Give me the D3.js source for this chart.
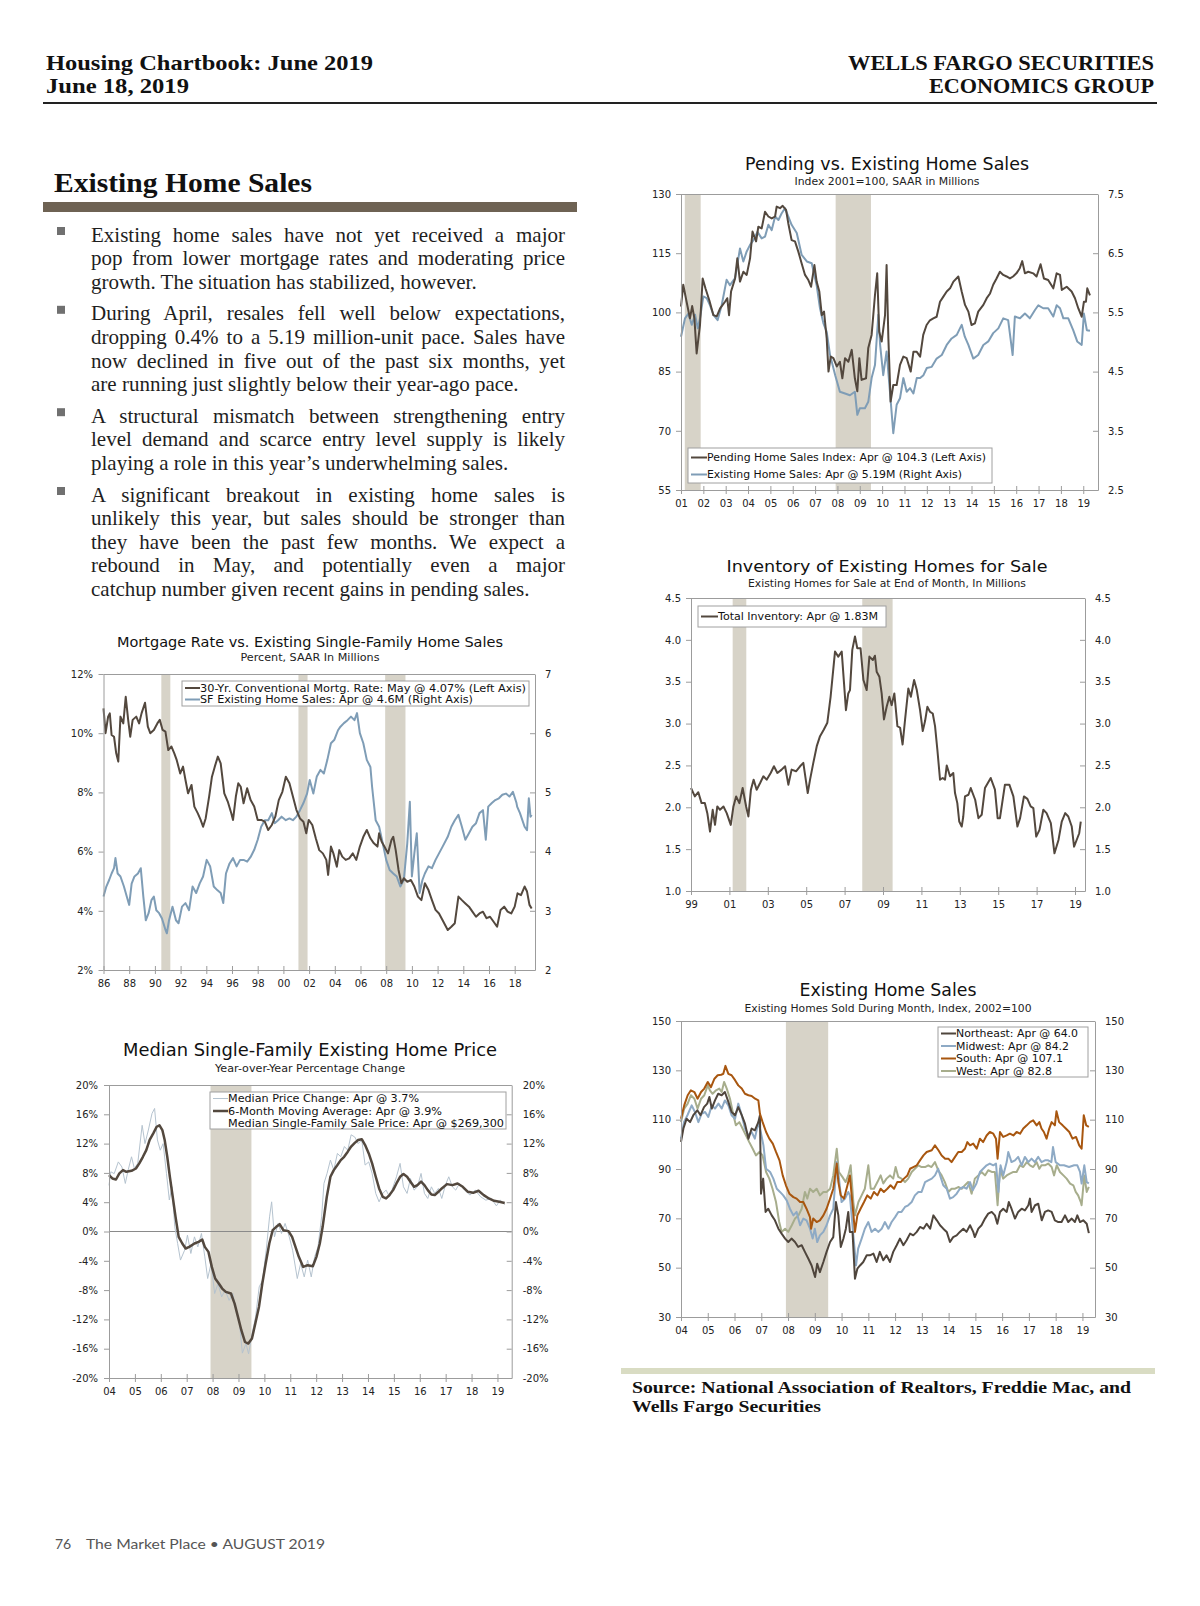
<!DOCTYPE html>
<html><head><meta charset="utf-8">
<script src="https://cdn.jsdelivr.net/npm/d3@7"></script>
<style>
body{margin:0;background:#fff;}
#page{position:relative;width:1200px;height:1606px;overflow:hidden;background:#fff;}
#svg{position:absolute;left:0;top:0;}
.ln{position:absolute;left:91px;width:474px;font-family:"Liberation Serif","Times New Roman",serif;font-size:21px;line-height:24px;color:#1e1e1e;text-align:justify;text-align-last:justify;white-space:normal;}
.ln.last{text-align-last:left;}
</style></head>
<body><div id="page"><svg id="svg" width="1200" height="1606"></svg></div>
<script>
// ---------------- DATA ----------------
const recessions = [[1990.5,1991.2],[2001.17,2001.88],[2007.92,2009.5]];

const pendingIndex = [[2001.0,101.5],[2001.1,107],[2001.25,102.7],[2001.4,98.5],[2001.5,101.6],[2001.6,98.5],[2001.7,89.6],[2001.85,96.8],[2001.97,108.6],[2002.1,106],[2002.27,103],[2002.45,99.3],[2002.6,99],[2002.75,101],[2002.97,102.7],[2003.07,103.6],[2003.15,99.3],[2003.24,105.3],[2003.42,108.6],[2003.52,113.7],[2003.64,107.8],[2003.79,110.3],[2003.94,109.5],[2004.09,113.7],[2004.2,120.5],[2004.36,118],[2004.46,121.7],[2004.61,121.3],[2004.76,125.5],[2004.91,124.3],[2005.06,123.8],[2005.21,124.3],[2005.28,126.8],[2005.43,126.4],[2005.55,127],[2005.7,126],[2005.8,122.6],[2005.95,118.3],[2006.1,118],[2006.25,115.4],[2006.4,112.4],[2006.55,109.5],[2006.7,108.2],[2006.82,106.5],[2006.97,112],[2007.07,107.8],[2007.19,105.3],[2007.3,99.3],[2007.4,100.2],[2007.52,93.4],[2007.6,85],[2007.7,88.8],[2007.82,88.4],[2007.97,86.3],[2008.11,87.5],[2008.22,83.3],[2008.34,88.4],[2008.49,87.5],[2008.64,90.5],[2008.78,83.3],[2008.89,80],[2008.98,88.4],[2009.08,82.9],[2009.28,83.3],[2009.38,91],[2009.53,94.3],[2009.68,104.4],[2009.78,109.9],[2009.87,95.1],[2009.98,92.6],[2010.13,99.3],[2010.2,112],[2010.28,93.4],[2010.38,77.4],[2010.5,81.6],[2010.65,81.6],[2010.8,86.7],[2010.95,88.8],[2011.1,88.4],[2011.28,85],[2011.4,90],[2011.55,90],[2011.7,88.8],[2011.84,94.3],[2011.99,96.8],[2012.14,98],[2012.29,98.5],[2012.44,98.9],[2012.59,102.7],[2012.74,104],[2012.89,105.3],[2013.04,106.1],[2013.19,107.8],[2013.41,109.1],[2013.56,105.3],[2013.71,101.9],[2013.86,100.2],[2014.0,96.8],[2014.15,97.2],[2014.3,100.2],[2014.53,101.9],[2014.68,103.6],[2014.83,104.8],[2014.97,107],[2015.12,108.6],[2015.27,110.3],[2015.42,109.5],[2015.57,109.1],[2015.72,108.6],[2015.86,109.1],[2016.01,109.9],[2016.16,111.2],[2016.27,113],[2016.39,109.9],[2016.54,110.3],[2016.76,109.9],[2016.91,109.1],[2017.09,112.2],[2017.24,108.6],[2017.43,108.2],[2017.66,106.1],[2017.81,109.9],[2017.96,109.5],[2018.04,105.7],[2018.26,106.5],[2018.48,105.3],[2018.63,103.6],[2018.78,101],[2018.93,98.9],[2019.03,102.7],[2019.12,102.7],[2019.18,106.1],[2019.3,104.3]];

const existingSales = [[2001.0,5.09],[2001.18,5.4],[2001.33,5.48],[2001.48,5.29],[2001.63,5.46],[2001.75,5.23],[2001.85,5.4],[2002.0,5.77],[2002.15,5.74],[2002.3,5.62],[2002.45,5.46],[2002.64,5.37],[2002.82,5.62],[2003.04,6.05],[2003.19,5.96],[2003.42,6.08],[2003.64,6.58],[2003.79,6.36],[2003.94,6.53],[2004.09,6.64],[2004.24,6.72],[2004.42,6.86],[2004.61,6.75],[2004.76,6.78],[2004.91,6.98],[2005.06,6.89],[2005.21,7.12],[2005.36,7.06],[2005.5,7.17],[2005.65,7.26],[2005.8,7.12],[2005.95,6.98],[2006.18,6.84],[2006.4,6.47],[2006.63,6.36],[2006.85,6.33],[2007.07,5.96],[2007.22,5.57],[2007.37,5.32],[2007.52,5.17],[2007.67,4.78],[2007.9,4.44],[2008.11,4.16],[2008.34,4.13],[2008.56,4.1],[2008.78,4.16],[2008.89,3.77],[2009.0,3.88],[2009.23,3.88],[2009.38,3.99],[2009.53,4.39],[2009.68,4.61],[2009.83,5.46],[2009.91,4.95],[2010.05,4.44],[2010.2,4.84],[2010.35,4.16],[2010.5,3.46],[2010.65,3.94],[2010.8,4.05],[2010.95,4.39],[2011.1,4.16],[2011.25,4.22],[2011.4,4.13],[2011.55,4.39],[2011.7,4.39],[2011.85,4.44],[2012.0,4.56],[2012.22,4.58],[2012.44,4.72],[2012.67,4.78],[2012.89,4.95],[2013.11,5.06],[2013.34,5.12],[2013.56,5.29],[2013.7,5.09],[2013.86,4.95],[2014.08,4.72],[2014.3,4.78],[2014.53,4.95],[2014.75,5.01],[2014.97,5.15],[2015.2,5.23],[2015.42,5.4],[2015.64,5.37],[2015.84,4.78],[2015.94,5.43],[2016.17,5.4],[2016.39,5.48],[2016.61,5.4],[2016.84,5.54],[2016.99,5.62],[2017.21,5.57],[2017.43,5.57],[2017.66,5.43],[2017.81,5.62],[2017.96,5.57],[2018.11,5.4],[2018.33,5.4],[2018.55,5.2],[2018.73,5.01],[2018.93,4.95],[2019.03,5.48],[2019.16,5.2],[2019.3,5.19]];

const totalInventory = [[1999.0,2.23],[1999.2,2.13],[1999.38,2.18],[1999.55,2.05],[1999.72,2.05],[1999.85,1.93],[1999.99,1.71],[2000.13,1.97],[2000.25,1.79],[2000.37,2.01],[2000.51,1.97],[2000.69,2.01],[2000.86,1.93],[2001.07,1.79],[2001.21,2.01],[2001.35,2.13],[2001.52,2.05],[2001.69,2.23],[2001.87,2.01],[2001.99,1.89],[2002.12,2.21],[2002.26,2.33],[2002.42,2.21],[2002.6,2.29],[2002.77,2.37],[2002.94,2.33],[2003.15,2.41],[2003.32,2.49],[2003.5,2.41],[2003.72,2.45],[2003.9,2.49],[2004.07,2.27],[2004.24,2.45],[2004.47,2.43],[2004.68,2.49],[2004.85,2.53],[2005.08,2.17],[2005.2,2.33],[2005.37,2.53],[2005.55,2.73],[2005.72,2.85],[2005.92,2.93],[2006.1,3.01],[2006.27,3.32],[2006.5,3.86],[2006.67,3.8],[2006.85,3.86],[2006.97,3.48],[2007.07,3.16],[2007.19,3.36],[2007.28,3.4],[2007.4,3.88],[2007.54,4.04],[2007.66,3.9],[2007.83,3.9],[2007.98,3.52],[2008.15,3.4],[2008.29,3.8],[2008.47,3.76],[2008.58,3.81],[2008.67,3.62],[2008.81,3.56],[2008.93,3.36],[2009.05,3.05],[2009.19,3.2],[2009.33,3.32],[2009.45,3.22],[2009.59,3.36],[2009.75,2.97],[2009.89,2.95],[2010.02,2.75],[2010.15,3.05],[2010.32,3.42],[2010.45,3.32],[2010.62,3.52],[2010.76,3.4],[2010.93,3.16],[2011.07,2.91],[2011.19,3.03],[2011.31,3.2],[2011.45,3.14],[2011.59,3.12],[2011.71,2.97],[2011.83,2.69],[2011.97,2.33],[2012.11,2.35],[2012.23,2.33],[2012.32,2.5],[2012.49,2.37],[2012.66,2.41],[2012.75,2.17],[2012.87,2.05],[2012.97,1.83],[2013.1,1.77],[2013.18,1.89],[2013.27,2.13],[2013.45,2.15],[2013.57,2.23],[2013.8,2.09],[2013.97,1.87],[2014.14,1.91],[2014.31,2.23],[2014.61,2.35],[2014.83,2.21],[2014.97,1.87],[2015.09,1.87],[2015.35,2.27],[2015.58,2.27],[2015.79,2.13],[2016.0,1.77],[2016.14,1.87],[2016.34,2.13],[2016.52,2.1],[2016.69,2.01],[2016.83,1.99],[2016.98,1.65],[2017.15,1.73],[2017.35,1.97],[2017.52,1.93],[2017.74,1.81],[2017.93,1.45],[2018.14,1.61],[2018.31,1.83],[2018.49,1.93],[2018.65,1.89],[2018.83,1.77],[2018.95,1.53],[2019.12,1.63],[2019.22,1.69],[2019.3,1.83]];

const mortgageRate = [[1986.0,10.84],[1986.16,10.0],[1986.36,10.56],[1986.49,10.67],[1986.63,9.94],[1986.82,9.88],[1986.99,9.32],[1987.15,9.04],[1987.32,10.56],[1987.54,10.33],[1987.73,11.23],[1987.92,10.45],[1988.08,9.88],[1988.27,10.45],[1988.55,10.56],[1988.77,10.33],[1988.96,10.67],[1989.23,11.03],[1989.45,10.22],[1989.64,10.0],[1989.92,10.11],[1990.19,10.33],[1990.38,10.45],[1990.6,10.11],[1990.82,10.05],[1991.04,9.43],[1991.29,9.55],[1991.51,9.32],[1991.7,9.09],[1991.97,8.64],[1992.19,8.87],[1992.38,8.42],[1992.58,7.97],[1992.85,8.25],[1993.07,7.52],[1993.34,7.29],[1993.56,7.07],[1993.75,6.84],[1993.95,7.12],[1994.22,7.86],[1994.44,8.53],[1994.66,8.87],[1994.9,9.21],[1995.12,8.98],[1995.4,7.97],[1995.67,7.69],[1995.95,7.29],[1996.08,7.07],[1996.3,7.86],[1996.49,8.31],[1996.68,8.19],[1996.9,7.63],[1997.18,8.14],[1997.45,7.74],[1997.73,7.52],[1998.0,7.07],[1998.27,7.07],[1998.55,7.01],[1998.82,6.73],[1999.1,6.9],[1999.37,7.18],[1999.64,7.74],[1999.92,8.02],[2000.19,8.53],[2000.47,8.31],[2000.74,7.86],[2001.01,7.41],[2001.29,7.12],[2001.56,7.01],[2001.78,6.62],[2001.97,7.07],[2002.25,6.9],[2002.52,6.45],[2002.79,6.05],[2003.07,5.94],[2003.34,5.72],[2003.48,5.21],[2003.7,6.17],[2003.89,5.94],[2004.16,5.49],[2004.35,6.05],[2004.58,5.83],[2004.85,5.72],[2005.12,5.77],[2005.4,5.94],[2005.67,5.72],[2005.95,6.17],[2006.22,6.5],[2006.49,6.73],[2006.77,6.45],[2007.04,6.28],[2007.32,6.17],[2007.45,6.62],[2007.64,6.34],[2007.86,6.17],[2008.14,5.94],[2008.41,6.39],[2008.55,6.5],[2008.74,6.05],[2008.96,5.38],[2009.18,4.93],[2009.37,5.1],[2009.64,4.98],[2009.92,5.04],[2010.19,4.82],[2010.47,4.48],[2010.74,4.36],[2011.01,4.93],[2011.29,4.7],[2011.56,4.36],[2011.84,4.03],[2012.11,3.91],[2012.38,3.69],[2012.79,3.35],[2013.07,3.46],[2013.34,3.58],[2013.62,4.48],[2013.89,4.36],[2014.16,4.25],[2014.44,4.14],[2014.71,3.97],[2014.99,3.8],[2015.26,3.91],[2015.53,3.97],[2015.81,3.75],[2016.08,3.8],[2016.36,3.63],[2016.63,3.46],[2016.9,4.03],[2017.18,4.14],[2017.45,3.97],[2017.73,3.91],[2018.0,4.14],[2018.22,4.59],[2018.49,4.53],[2018.77,4.82],[2018.96,4.65],[2019.15,4.2],[2019.32,4.08]];

const sfExistingSales = [[1986.0,3.24],[1986.22,3.41],[1986.44,3.52],[1986.63,3.63],[1986.82,3.72],[1986.93,3.89],[1987.1,3.63],[1987.32,3.58],[1987.59,3.41],[1987.81,3.24],[1988.0,3.1],[1988.19,3.46],[1988.41,3.58],[1988.68,3.63],[1988.9,3.72],[1989.1,3.24],[1989.29,2.84],[1989.51,2.96],[1989.73,3.18],[1989.92,3.24],[1990.11,3.01],[1990.33,2.96],[1990.55,2.87],[1990.82,2.68],[1990.93,2.62],[1991.1,2.84],[1991.37,3.07],[1991.64,2.84],[1991.84,2.79],[1992.11,3.07],[1992.38,3.13],[1992.66,3.01],[1992.93,3.41],[1993.21,3.3],[1993.48,3.46],[1993.75,3.58],[1994.03,3.86],[1994.3,3.75],[1994.58,3.41],[1994.85,3.35],[1995.12,3.3],[1995.32,3.13],[1995.53,3.63],[1995.81,3.8],[1996.08,3.89],[1996.36,3.75],[1996.63,3.86],[1996.9,3.86],[1997.18,3.83],[1997.45,3.91],[1997.73,4.03],[1998.0,4.2],[1998.27,4.42],[1998.55,4.53],[1998.82,4.53],[1999.1,4.65],[1999.32,4.48],[1999.59,4.53],[1999.86,4.59],[2000.19,4.53],[2000.47,4.56],[2000.74,4.53],[2001.01,4.59],[2001.29,4.7],[2001.56,4.82],[2001.84,4.98],[2002.05,5.21],[2002.33,4.98],[2002.6,5.27],[2002.88,5.38],[2003.15,5.32],[2003.42,5.55],[2003.7,5.83],[2003.97,5.89],[2004.25,6.05],[2004.44,6.11],[2004.71,6.17],[2004.99,6.22],[2005.26,6.28],[2005.53,6.22],[2005.73,6.34],[2005.95,6.0],[2006.22,5.83],[2006.49,5.55],[2006.77,5.43],[2006.9,5.1],[2007.18,4.53],[2007.45,4.42],[2007.73,4.14],[2008.0,3.86],[2008.27,3.69],[2008.55,3.63],[2008.82,3.58],[2009.1,3.41],[2009.37,3.52],[2009.64,4.14],[2009.84,4.84],[2010.0,3.58],[2010.19,3.97],[2010.38,4.31],[2010.6,3.3],[2010.82,3.52],[2011.01,3.63],[2011.29,3.75],[2011.56,3.72],[2011.84,3.86],[2012.11,3.97],[2012.38,4.08],[2012.79,4.25],[2013.07,4.42],[2013.34,4.53],[2013.62,4.62],[2013.89,4.42],[2014.16,4.2],[2014.44,4.31],[2014.71,4.42],[2014.99,4.48],[2015.26,4.65],[2015.53,4.7],[2015.75,4.2],[2015.94,4.76],[2016.22,4.82],[2016.49,4.87],[2016.77,4.9],[2017.04,4.96],[2017.32,4.98],[2017.59,4.93],[2017.86,5.01],[2018.14,4.82],[2018.19,4.76],[2018.41,4.65],[2018.77,4.42],[2018.96,4.36],[2019.1,4.9],[2019.23,4.59],[2019.32,4.62]];

const medianPriceChange = [[2004.0,6.3],[2004.07,8.15],[2004.2,7.9],[2004.36,9.5],[2004.5,8.8],[2004.63,6.56],[2004.74,8.4],[2004.87,10.2],[2004.98,8.6],[2005.11,9.3],[2005.28,14.5],[2005.39,12.0],[2005.52,13.85],[2005.66,16.1],[2005.76,16.8],[2005.87,12.5],[2005.98,11.1],[2006.09,12.0],[2006.22,7.9],[2006.33,4.3],[2006.43,6.1],[2006.54,0.64],[2006.65,-1.64],[2006.76,-3.9],[2006.92,-2.55],[2007.03,-0.5],[2007.16,-3.0],[2007.3,-0.73],[2007.43,-2.1],[2007.57,-0.27],[2007.7,-3.46],[2007.81,-6.42],[2007.94,-4.37],[2008.08,-8.47],[2008.21,-7.1],[2008.35,-8.93],[2008.48,-8.0],[2008.64,-9.4],[2008.78,-8.47],[2008.91,-10.75],[2009.04,-12.57],[2009.15,-16.6],[2009.29,-15.3],[2009.39,-16.7],[2009.53,-13.9],[2009.66,-11.66],[2009.8,-7.56],[2009.93,-6.65],[2010.07,-2.55],[2010.2,2.0],[2010.28,4.05],[2010.39,-0.73],[2010.53,1.1],[2010.66,-0.27],[2010.8,1.1],[2010.96,-0.73],[2011.09,-2.55],[2011.27,-6.42],[2011.4,-4.37],[2011.54,-6.2],[2011.67,-3.9],[2011.81,-6.2],[2011.94,-3.46],[2012.07,-2.1],[2012.21,2.0],[2012.3,6.56],[2012.42,7.93],[2012.55,9.75],[2012.68,8.38],[2012.82,10.66],[2012.95,10.2],[2013.09,11.6],[2013.22,11.1],[2013.35,13.2],[2013.49,12.9],[2013.62,12.0],[2013.76,12.5],[2013.89,9.07],[2014.03,9.5],[2014.16,7.93],[2014.3,5.2],[2014.43,4.05],[2014.57,5.2],[2014.7,5.65],[2014.83,4.74],[2014.97,6.1],[2015.1,7.47],[2015.24,9.3],[2015.37,6.1],[2015.51,5.2],[2015.64,7.24],[2015.78,5.65],[2015.91,6.1],[2016.05,7.93],[2016.18,5.2],[2016.31,4.51],[2016.45,6.1],[2016.58,5.2],[2016.72,5.88],[2016.85,4.51],[2016.99,6.33],[2017.12,7.47],[2017.26,6.1],[2017.39,5.65],[2017.53,6.56],[2017.73,5.65],[2017.94,4.97],[2018.14,5.65],[2018.35,4.74],[2018.55,4.28],[2018.76,4.51],[2018.96,3.5],[2019.11,4.28],[2019.28,3.7]];

const medianMovingAvg = [[2004.0,7.7],[2004.13,7.24],[2004.27,7.1],[2004.4,7.93],[2004.54,8.38],[2004.67,8.15],[2004.87,8.29],[2005.04,8.6],[2005.17,9.3],[2005.31,10.2],[2005.44,11.1],[2005.57,12.5],[2005.71,13.4],[2005.84,14.3],[2005.95,14.5],[2006.06,13.85],[2006.15,12.5],[2006.25,10.2],[2006.35,7.47],[2006.46,4.74],[2006.57,2.0],[2006.69,-0.73],[2006.83,-1.64],[2006.96,-2.32],[2007.1,-2.1],[2007.3,-1.64],[2007.46,-1.41],[2007.6,-1.09],[2007.7,-2.1],[2007.84,-2.78],[2007.97,-4.83],[2008.1,-6.42],[2008.24,-7.1],[2008.37,-7.79],[2008.51,-8.25],[2008.71,-8.47],[2008.85,-9.84],[2008.98,-11.66],[2009.11,-13.48],[2009.25,-15.08],[2009.38,-15.3],[2009.52,-14.6],[2009.65,-12.57],[2009.79,-10.3],[2009.92,-7.1],[2010.05,-4.37],[2010.19,-1.64],[2010.32,0.18],[2010.46,0.64],[2010.59,1.0],[2010.73,0.18],[2010.93,0.05],[2011.07,-0.73],[2011.2,-2.1],[2011.33,-3.46],[2011.5,-4.83],[2011.67,-4.6],[2011.87,-4.74],[2012.01,-3.46],[2012.14,-1.64],[2012.25,0.64],[2012.41,4.74],[2012.55,7.47],[2012.68,8.38],[2012.82,9.07],[2012.95,9.75],[2013.08,10.2],[2013.22,10.9],[2013.35,11.6],[2013.49,12.1],[2013.62,12.5],[2013.76,12.6],[2013.89,11.8],[2014.03,10.66],[2014.16,9.3],[2014.3,7.47],[2014.43,5.88],[2014.57,4.74],[2014.7,4.51],[2014.83,4.97],[2014.97,5.65],[2015.1,6.56],[2015.24,7.47],[2015.37,7.84],[2015.51,7.47],[2015.64,6.8],[2015.78,6.1],[2015.91,6.33],[2016.05,6.8],[2016.18,6.33],[2016.31,5.65],[2016.45,5.06],[2016.58,4.97],[2016.72,5.42],[2016.85,5.88],[2017.05,6.47],[2017.26,6.33],[2017.46,6.56],[2017.66,6.1],[2017.86,5.42],[2018.06,5.28],[2018.27,5.56],[2018.47,4.97],[2018.67,4.51],[2018.87,4.19],[2019.07,4.05],[2019.28,3.9]];

const northeast = [[2004.0,101],[2004.09,106.4],[2004.21,110.4],[2004.34,109],[2004.46,111.8],[2004.61,113.8],[2004.73,111.8],[2004.86,115.1],[2004.98,116.5],[2005.06,119.2],[2005.15,114.5],[2005.27,117.8],[2005.39,120.5],[2005.52,119.9],[2005.64,121.2],[2005.77,117.2],[2005.89,113.1],[2006.02,111.8],[2006.14,115.1],[2006.27,111.8],[2006.39,108.4],[2006.52,102.3],[2006.64,106.4],[2006.76,105.7],[2006.89,109],[2006.95,111.8],[2006.99,80],[2007.07,86.1],[2007.16,72.6],[2007.26,73.9],[2007.39,71.2],[2007.51,69.2],[2007.64,65.8],[2007.76,63.8],[2007.89,61.8],[2008.01,60.4],[2008.13,61.8],[2008.26,60.4],[2008.38,58.4],[2008.51,59.1],[2008.63,56.4],[2008.76,53.6],[2008.88,50.9],[2009.01,46.2],[2009.09,51.6],[2009.19,48.2],[2009.32,52.3],[2009.44,56.4],[2009.57,60.4],[2009.69,62.4],[2009.79,76.6],[2009.88,71.2],[2009.97,58.4],[2010.07,61.8],[2010.16,65.8],[2010.25,72.6],[2010.31,64.5],[2010.41,64.5],[2010.5,45.5],[2010.59,49.6],[2010.69,50.9],[2010.81,52.3],[2010.94,55],[2011.06,55],[2011.19,55.7],[2011.31,52.3],[2011.43,56.4],[2011.56,53],[2011.68,55],[2011.81,52.3],[2011.93,56.4],[2012.06,59.1],[2012.18,61.8],[2012.31,59.1],[2012.43,61.1],[2012.56,63.8],[2012.68,63.1],[2012.81,64.5],[2012.93,66.5],[2013.06,65.8],[2013.18,67.8],[2013.31,65.8],[2013.43,71.2],[2013.56,69.2],[2013.68,67.2],[2013.8,65.8],[2013.93,64.5],[2014.05,60.4],[2014.17,62.4],[2014.3,63.1],[2014.42,64.5],[2014.55,65.8],[2014.67,64.5],[2014.8,67.2],[2014.92,64.5],[2014.98,62.4],[2015.11,65.8],[2015.23,67.2],[2015.36,69.9],[2015.48,71.9],[2015.61,72.6],[2015.73,71.2],[2015.82,67.8],[2015.92,72.6],[2016.04,73.9],[2016.17,72.6],[2016.25,76.6],[2016.35,73.9],[2016.48,69.9],[2016.6,72.6],[2016.73,73.9],[2016.85,73.2],[2016.98,75.3],[2017.04,78],[2017.1,72.6],[2017.23,75.3],[2017.35,75.9],[2017.48,69.2],[2017.6,72.6],[2017.72,73.2],[2017.85,72.6],[2017.97,69.2],[2018.1,68.5],[2018.22,68.5],[2018.35,71.2],[2018.47,68.5],[2018.6,69.9],[2018.72,68.5],[2018.81,71.2],[2018.91,68.5],[2019.03,69.2],[2019.16,67.8],[2019.24,64.0]];

const midwest = [[2004.0,102.3],[2004.11,109],[2004.24,111.8],[2004.4,115.8],[2004.52,113.1],[2004.65,109],[2004.77,112.4],[2004.9,113.1],[2005.02,111.1],[2005.15,115.8],[2005.27,114.5],[2005.4,116.5],[2005.52,114.5],[2005.64,117.8],[2005.77,115.8],[2005.89,111.8],[2006.02,110.4],[2006.14,116.5],[2006.27,111.8],[2006.39,106.4],[2006.52,103.6],[2006.64,105],[2006.76,102.3],[2006.89,109],[2006.98,105],[2007.08,99.6],[2007.18,90.1],[2007.33,88.8],[2007.45,86.1],[2007.58,82],[2007.7,80.7],[2007.82,79.3],[2007.95,77.3],[2008.07,73.9],[2008.2,71.2],[2008.32,72.6],[2008.45,67.2],[2008.57,69.9],[2008.69,69.2],[2008.82,65.8],[2008.92,61.8],[2009.0,65.8],[2009.09,60.4],[2009.19,63.1],[2009.32,64.5],[2009.44,67.2],[2009.57,71.2],[2009.69,73.9],[2009.82,92.8],[2009.89,87.4],[2010.0,76.6],[2010.13,78],[2010.25,80.7],[2010.31,79.3],[2010.44,63.1],[2010.54,50.9],[2010.62,57.7],[2010.75,61.8],[2010.87,65.8],[2011.0,68.5],[2011.12,64.5],[2011.25,65.8],[2011.37,64.5],[2011.5,65.8],[2011.62,68.5],[2011.75,65.8],[2011.87,68.5],[2012.0,70.5],[2012.12,72.6],[2012.24,72.6],[2012.37,74.6],[2012.49,75.3],[2012.62,76.6],[2012.74,79.3],[2012.87,80.7],[2012.99,80.7],[2013.12,84.7],[2013.24,85.4],[2013.37,86.1],[2013.49,87.4],[2013.61,90.1],[2013.7,86.8],[2013.8,83.4],[2013.93,82],[2014.05,78],[2014.17,78.6],[2014.3,80],[2014.42,82],[2014.55,82.7],[2014.67,82],[2014.8,84.7],[2014.9,81.4],[2015.04,84.1],[2015.17,88.8],[2015.29,90.1],[2015.42,91.5],[2015.54,92.2],[2015.67,91.5],[2015.77,92.2],[2015.86,80.7],[2015.94,91.5],[2016.04,87.4],[2016.17,92.8],[2016.23,96.9],[2016.35,92.8],[2016.48,93.5],[2016.6,94.9],[2016.73,91.5],[2016.85,94.9],[2016.98,92.8],[2017.1,94.2],[2017.22,92.8],[2017.35,94.9],[2017.47,92.8],[2017.6,93.5],[2017.72,93.5],[2017.84,92.8],[2017.9,98.9],[2018.0,92.8],[2018.16,91.5],[2018.31,91.5],[2018.5,90.8],[2018.69,91.5],[2018.81,91.5],[2018.91,88.8],[2018.97,84.1],[2019.07,91.5],[2019.16,84.7],[2019.24,84.2]];

const south = [[2004.0,110.4],[2004.12,115.8],[2004.25,119.9],[2004.37,121.9],[2004.5,121.2],[2004.62,118.5],[2004.75,121.2],[2004.87,122.6],[2005.0,125.3],[2005.12,123.2],[2005.25,126.6],[2005.37,128],[2005.5,128.2],[2005.58,128.6],[2005.66,131.8],[2005.77,128.6],[2005.89,128],[2006.02,126],[2006.14,123.9],[2006.27,122.6],[2006.39,120.5],[2006.52,119.9],[2006.64,119.6],[2006.77,118.5],[2006.89,117.8],[2006.95,112.4],[2007.05,109],[2007.18,105],[2007.3,102.3],[2007.43,100.3],[2007.55,96.9],[2007.68,93.5],[2007.8,87.4],[2007.92,83.4],[2008.05,80],[2008.2,78.6],[2008.32,78],[2008.45,76.6],[2008.57,76.6],[2008.69,73.9],[2008.82,70.5],[2008.86,65.8],[2008.94,69.9],[2009.07,68.5],[2009.19,69.2],[2009.32,71.2],[2009.44,73.9],[2009.57,78],[2009.69,82],[2009.82,92.2],[2009.88,84.7],[2009.97,79.3],[2010.09,78],[2010.22,83.4],[2010.31,87.4],[2010.4,76.6],[2010.5,64.5],[2010.59,71.2],[2010.71,73.9],[2010.84,76.6],[2010.96,79.3],[2011.09,78],[2011.21,80.7],[2011.34,79.3],[2011.46,82],[2011.58,80.7],[2011.71,82],[2011.83,83.4],[2011.96,82],[2012.08,84.7],[2012.21,84.7],[2012.33,86.1],[2012.46,87.4],[2012.56,90.1],[2012.68,90.8],[2012.81,91.5],[2012.93,93.5],[2013.06,95.5],[2013.18,96.9],[2013.37,97.6],[2013.49,99.6],[2013.62,97.6],[2013.74,95.5],[2013.87,94.2],[2013.99,94.2],[2014.11,92.8],[2014.24,94.9],[2014.36,96.9],[2014.49,96.9],[2014.61,98.2],[2014.7,100.9],[2014.8,99.6],[2014.92,100.3],[2015.05,98.2],[2015.17,102.3],[2015.29,100.9],[2015.42,103.6],[2015.54,105],[2015.67,104.3],[2015.77,102.3],[2015.83,94.2],[2015.92,105],[2016.04,103],[2016.17,103.6],[2016.29,104.3],[2016.42,103.6],[2016.54,105],[2016.67,104.3],[2016.79,106.4],[2016.92,107.7],[2017.04,109],[2017.16,109.7],[2017.29,107.7],[2017.39,109],[2017.47,106.4],[2017.56,105],[2017.66,102.3],[2017.76,106.4],[2017.85,109],[2017.97,107.7],[2018.03,113.4],[2018.13,109],[2018.26,107.7],[2018.38,106.4],[2018.51,105],[2018.63,102.3],[2018.76,103],[2018.88,99.6],[2018.97,98.2],[2019.05,111.8],[2019.14,107.7],[2019.24,107.1]];

const west = [[2004.0,109],[2004.12,114.5],[2004.25,116.5],[2004.37,119.9],[2004.5,118.5],[2004.62,114.5],[2004.75,118.5],[2004.87,119.9],[2005.0,123.9],[2005.08,121.9],[2005.18,120.5],[2005.31,121.9],[2005.43,122.6],[2005.52,121.2],[2005.61,125.3],[2005.71,122.6],[2005.83,118.5],[2005.96,111.8],[2006.05,107.7],[2006.18,109],[2006.3,106.4],[2006.43,103.6],[2006.55,100.9],[2006.68,98.2],[2006.8,95.5],[2006.93,96.9],[2007.05,95.5],[2007.18,88.8],[2007.3,86.1],[2007.42,82],[2007.55,76.6],[2007.67,68.5],[2007.76,64.5],[2007.89,65.8],[2008.01,64.5],[2008.14,67.2],[2008.26,69.9],[2008.39,71.2],[2008.51,73.9],[2008.63,80.7],[2008.72,78],[2008.82,82],[2008.94,80.7],[2009.07,82],[2009.19,79.3],[2009.32,80.7],[2009.44,80.7],[2009.57,82],[2009.69,87.4],[2009.82,98.2],[2009.9,88.8],[2010.03,86.8],[2010.15,84.7],[2010.25,87.4],[2010.34,91.5],[2010.44,76.6],[2010.5,71.2],[2010.63,76.6],[2010.75,79.3],[2010.87,82],[2011.0,91.5],[2011.09,82],[2011.21,82],[2011.34,84.7],[2011.46,87.4],[2011.56,84.1],[2011.68,86.1],[2011.81,87.4],[2011.93,86.1],[2012.02,90.8],[2012.12,86.8],[2012.24,86.1],[2012.37,84.7],[2012.49,86.1],[2012.62,88.8],[2012.74,90.1],[2012.87,91.5],[2012.99,90.8],[2013.12,90.8],[2013.24,91.5],[2013.36,90.8],[2013.49,92.8],[2013.61,89.5],[2013.74,87.4],[2013.86,84.7],[2013.99,80.7],[2014.11,82],[2014.24,82],[2014.36,82.7],[2014.49,82],[2014.61,83.4],[2014.73,84.7],[2014.86,80],[2014.98,86.1],[2015.11,87.4],[2015.23,88.8],[2015.36,87.4],[2015.48,89.5],[2015.61,88.8],[2015.73,88.8],[2015.83,75.3],[2015.92,90.1],[2016.04,86.1],[2016.17,87.4],[2016.29,88.1],[2016.42,88.8],[2016.54,88.8],[2016.67,91.5],[2016.79,90.8],[2016.92,92.8],[2017.04,91.5],[2017.16,90.8],[2017.29,92.8],[2017.39,90.1],[2017.47,91.5],[2017.6,91.5],[2017.72,92.2],[2017.85,90.8],[2017.94,87.4],[2018.04,91.5],[2018.16,88.8],[2018.29,87.4],[2018.41,86.1],[2018.54,84.1],[2018.66,83.4],[2018.75,80.7],[2018.84,79.3],[2018.94,76.6],[2018.97,75.3],[2019.07,87.4],[2019.16,80.7],[2019.24,82.8]];

// tick values
const pendingYL = [55,70,85,100,115,130];
const pendingYR = [2.5,3.5,4.5,5.5,6.5,7.5];
const pendingYears = d3.range(2001,2020);
const inventoryY = [1.0,1.5,2.0,2.5,3.0,3.5,4.0,4.5];
const inventoryYears = d3.range(1999,2020,2);
const mortgageYL = [2,4,6,8,10,12];
const mortgageYR = [2,3,4,5,6,7];
const mortgageYears = d3.range(1986,2019,2);
const medianY = [-20,-16,-12,-8,-4,0,4,8,12,16,20];
const medianYears = d3.range(2004,2020);
const regionY = [30,50,70,90,110,130,150];
const regionYears = d3.range(2004,2020);

const bodyParas = [
 ["Existing home sales have not yet received a major","pop from lower mortgage rates and moderating price","growth. The situation has stabilized, however."],
 ["During April, resales fell well below expectations,","dropping 0.4% to a 5.19 million-unit pace. Sales have","now declined in five out of the past six months, yet","are running just slightly below their year-ago pace."],
 ["A structural mismatch between strengthening entry","level demand and scarce entry level supply is likely","playing a role in this year’s underwhelming sales."],
 ["A significant breakout in existing home sales is","unlikely this year, but sales should be stronger than","they have been the past few months. We expect a","rebound in May, and potentially even a major","catchup number given recent gains in pending sales."]
];

// ---------------- DRAW ----------------
const svg = d3.select("#svg");
const SANS = "'DejaVu Sans', Verdana, sans-serif";
const SERIF = "'Liberation Serif','Times New Roman',serif";
const AX = "#9c9c9c";
const C_DARK = "#53483e", C_BLUE = "#7f9db6", C_REC = "#d7d3c8";

function txt(x,y,s,opt){ const t = svg.append("text").attr("x",x).attr("y",y).text(s);
  Object.entries(opt).forEach(([k,v])=>t.attr(k,v)); return t; }
txt(46,70,"Housing Chartbook: June 2019",{"font-family":SERIF,"font-weight":"bold","font-size":22,"fill":"#111","textLength":327,"lengthAdjust":"spacingAndGlyphs"});
txt(46,93,"June 18, 2019",{"font-family":SERIF,"font-weight":"bold","font-size":22,"fill":"#111","textLength":143,"lengthAdjust":"spacingAndGlyphs"});
txt(1154,70,"WELLS FARGO SECURITIES",{"font-family":SERIF,"font-weight":"bold","font-size":21,"fill":"#111","text-anchor":"end","textLength":306,"lengthAdjust":"spacingAndGlyphs"});
txt(1154,93,"ECONOMICS GROUP",{"font-family":SERIF,"font-weight":"bold","font-size":21,"fill":"#111","text-anchor":"end","textLength":225,"lengthAdjust":"spacingAndGlyphs"});
svg.append("rect").attr("x",43).attr("y",102).attr("width",1114).attr("height",2).attr("fill","#222");

txt(54,192,"Existing Home Sales",{"font-family":SERIF,"font-weight":"bold","font-size":27,"fill":"#111","textLength":258,"lengthAdjust":"spacingAndGlyphs"});
svg.append("rect").attr("x",43).attr("y",202).attr("width",534).attr("height",10).attr("fill","#6e6253");

const page = d3.select("#page");
const lineH = 23.6, paraGap = 8;
let cy = 234.5;
bodyParas.forEach((p) => {
  svg.append("rect").attr("x",57).attr("y",cy-7.5).attr("width",8).attr("height",8).attr("fill","#707070");
  p.forEach((l,i) => {
    page.append("div").attr("class","ln"+(i===p.length-1?" last":"")).style("top",(cy-12)+"px").text(l);
    cy += lineH;
  });
  cy += paraGap;
});

function drawChart(c){
  const g = svg.append("g");
  const x = d3.scaleLinear().domain(c.xDomain).range([c.x0,c.x1]);
  const yL = d3.scaleLinear().domain(c.yLDomain).range([c.y1,c.y0]);
  const yR = d3.scaleLinear().domain(c.yRDomain).range([c.y1,c.y0]);
  const tx = c.titleX !== undefined ? c.titleX : (c.x0+c.x1)/2;
  g.append("text").attr("x",tx).attr("y",c.titleY).attr("text-anchor","middle").attr("font-family",SANS).attr("font-size",c.titleSize).attr("fill","#111")
    .attr("textLength",c.titleW).attr("lengthAdjust","spacingAndGlyphs").text(c.title);
  g.append("text").attr("x",tx).attr("y",c.subY).attr("text-anchor","middle").attr("font-family",SANS).attr("font-size",c.subSize).attr("fill","#222")
    .attr("textLength",c.subW).attr("lengthAdjust","spacingAndGlyphs").text(c.subtitle);
  g.append("g").selectAll("rect").data(recessions.filter(r=>r[1]>c.xDomain[0] && r[0]<c.xDomain[1])).join("rect")
    .attr("x",r=>x(r[0])).attr("width",r=>x(r[1])-x(r[0])).attr("y",c.y0).attr("height",c.y1-c.y0).attr("fill",C_REC);
  if (c.zeroLine) g.append("line").attr("x1",c.x0).attr("x2",c.x1).attr("y1",yL(0)).attr("y2",yL(0)).attr("stroke","#8a8a8a").attr("stroke-width",1);
  c.series.forEach(s=>{
    const y = s.axis==="R"?yR:yL;
    g.append("path").datum(s.data).attr("fill","none").attr("stroke",s.color).attr("stroke-width",s.width)
      .attr("stroke-linejoin","round").attr("d",d3.line().x(d=>x(d[0])).y(d=>y(d[1])));
  });
  g.append("line").attr("x1",c.x0).attr("x2",c.x1).attr("y1",c.y0+0.5).attr("y2",c.y0+0.5).attr("stroke",AX);
  const aL = g.append("g").attr("transform",`translate(${c.x0},0)`)
    .call(d3.axisLeft(yL).tickValues(c.yLTicks).tickFormat(c.fmtL).tickSizeInner(5).tickSizeOuter(0).tickPadding(c.padL||5));
  const aR = g.append("g").attr("transform",`translate(${c.x1},0)`)
    .call(d3.axisRight(yR).tickValues(c.yRTicks).tickFormat(c.fmtR).tickSizeInner(-5).tickSizeOuter(0).tickPadding(c.padR||10));
  const aB = g.append("g").attr("transform",`translate(0,${c.y1})`)
    .call(d3.axisBottom(x).tickValues(c.xTicks).tickFormat(d=>String(d%100).padStart(2,"0")).tickSizeInner(4).tickSizeOuter(0).tickPadding(6));
  aB.selectAll(".tick line").attr("y1",-4);
  [aL,aR,aB].forEach(a=>{
    a.selectAll("path,line").attr("stroke",AX);
    a.selectAll("text").attr("font-family",SANS).attr("font-size",c.tickSize||10).attr("fill","#222");
  });
  const L = c.legend;
  const lg = g.append("g");
  lg.append("rect").attr("x",L.x).attr("y",L.y).attr("width",L.w).attr("height",L.h).attr("fill","#fff").attr("stroke","#a0a0a0");
  L.items.forEach((it,i)=>{
    const yy = L.y + L.first + i*L.row;
    if (it.color) lg.append("line").attr("x1",L.x+3).attr("x2",L.x+3+L.sample).attr("y1",yy).attr("y2",yy).attr("stroke",it.color).attr("stroke-width",it.width);
    lg.append("text").attr("x",L.x+3+L.sample).attr("y",yy).attr("dy","0.35em").attr("font-family",SANS).attr("font-size",L.size).attr("fill","#111")
      .attr("textLength",it.w).attr("lengthAdjust","spacingAndGlyphs").text(it.label);
  });
}

drawChart({
  title:"Pending vs. Existing Home Sales", subtitle:"Index 2001=100, SAAR in Millions",
  titleX:887, titleY:170, subY:185, titleSize:17, subSize:10.5, titleW:284, subW:185,
  x0:681, x1:1098, y0:194, y1:490, xDomain:[2001,2019.66],
  yLDomain:[55,130], yRDomain:[2.5,7.5], yLTicks:pendingYL, yRTicks:pendingYR, xTicks:pendingYears,
  fmtL:d3.format("d"), fmtR:d3.format(".1f"),
  series:[{data:existingSales,axis:"R",color:C_BLUE,width:2},{data:pendingIndex,axis:"L",color:C_DARK,width:2}],
  legend:{x:688,y:448,w:304,h:35,first:9.5,row:17,sample:16,size:10.5,items:[
    {label:"Pending Home Sales Index: Apr @ 104.3 (Left Axis)",color:C_DARK,width:2,w:279},
    {label:"Existing Home Sales: Apr @ 5.19M (Right Axis)",color:C_BLUE,width:2,w:255}]}
});

drawChart({
  title:"Inventory of Existing Homes for Sale", subtitle:"Existing Homes for Sale at End of Month, In Millions",
  titleX:887, titleY:572, subY:587, titleSize:16.5, subSize:10.5, titleW:321, subW:278,
  x0:691, x1:1085, y0:598, y1:891, xDomain:[1999,2019.52],
  yLDomain:[1,4.5], yRDomain:[1,4.5], yLTicks:inventoryY, yRTicks:inventoryY, xTicks:inventoryYears,
  fmtL:d3.format(".1f"), fmtR:d3.format(".1f"),
  series:[{data:totalInventory,axis:"L",color:C_DARK,width:2}],
  legend:{x:698,y:606,w:188,h:21,first:10.5,row:17,sample:17,size:10.5,items:[
    {label:"Total Inventory: Apr @ 1.83M",color:C_DARK,width:2,w:160}]}
});

drawChart({
  title:"Mortgage Rate vs. Existing Single-Family Home Sales", subtitle:"Percent, SAAR In Millions",
  titleX:310, titleY:647, subY:661, titleSize:14.3, subSize:10, titleW:386, subW:139,
  x0:103.5, x1:535, y0:674, y1:970, xDomain:[1986,2019.58],
  yLDomain:[2,12], yRDomain:[2,7], yLTicks:mortgageYL, yRTicks:mortgageYR, xTicks:mortgageYears,
  fmtL:d=>d+"%", fmtR:d3.format("d"), padL:5.5, padR:10,
  series:[{data:sfExistingSales,axis:"R",color:C_BLUE,width:2},{data:mortgageRate,axis:"L",color:C_DARK,width:2}],
  legend:{x:182,y:681,w:347,h:25,first:7,row:11.5,sample:15,size:10,items:[
    {label:"30-Yr. Conventional Mortg. Rate: May @ 4.07% (Left Axis)",color:C_DARK,width:2,w:326},
    {label:"SF Existing Home Sales: Apr @ 4.6M (Right Axis)",color:C_BLUE,width:2,w:273}]}
});

drawChart({
  title:"Median Single-Family Existing Home Price", subtitle:"Year-over-Year Percentage Change",
  titleX:310, titleY:1056, subY:1072, titleSize:17.5, subSize:10.5, titleW:374, subW:190,
  x0:109, x1:511.7, y0:1085, y1:1378, xDomain:[2004,2019.55],
  yLDomain:[-20,20], yRDomain:[-20,20], yLTicks:medianY, yRTicks:medianY, xTicks:medianYears,
  fmtL:d=>d+"%", fmtR:d=>d+"%", zeroLine:true, padL:6, padR:11,
  series:[{data:medianPriceChange,axis:"L",color:"#b5c3cf",width:1},{data:medianMovingAvg,axis:"L",color:C_DARK,width:2.5}],
  legend:{x:210,y:1092,w:296,h:37,first:6.5,row:12.5,sample:15,size:10,items:[
    {label:"Median Price Change: Apr @ 3.7%",color:"#b5c3cf",width:1,w:191},
    {label:"6-Month Moving Average: Apr @ 3.9%",color:C_DARK,width:2.5,w:214},
    {label:"Median Single-Family Sale Price: Apr @ $269,300",color:null,w:276}]}
});

drawChart({
  title:"Existing Home Sales", subtitle:"Existing Homes Sold During Month, Index, 2002=100",
  titleX:888, titleY:996, subY:1012, titleSize:17, subSize:10.5, titleW:177, subW:287,
  x0:681, x1:1095, y0:1021, y1:1317, xDomain:[2004,2019.47],
  yLDomain:[30,150], yRDomain:[30,150], yLTicks:regionY, yRTicks:regionY, xTicks:regionYears,
  fmtL:d3.format("d"), fmtR:d3.format("d"),
  series:[{data:west,axis:"L",color:"#a7ad8c",width:2},{data:midwest,axis:"L",color:"#8eaac5",width:2},
          {data:northeast,axis:"L",color:"#4f453c",width:2},{data:south,axis:"L",color:"#a8560f",width:2}],
  legend:{x:938,y:1027,w:150,h:50,first:6.5,row:12.5,sample:15,size:10.5,items:[
    {label:"Northeast: Apr @ 64.0",color:"#4f453c",width:2,w:122},
    {label:"Midwest: Apr @ 84.2",color:"#8eaac5",width:2,w:113},
    {label:"South: Apr @ 107.1",color:"#a8560f",width:2,w:107},
    {label:"West: Apr @ 82.8",color:"#a7ad8c",width:2,w:96}]}
});

svg.append("rect").attr("x",621).attr("y",1368).attr("width",534).attr("height",6).attr("fill","#d9dcc3");
txt(632,1393,"Source: National Association of Realtors, Freddie Mac, and",{"font-family":SERIF,"font-weight":"bold","font-size":17.5,"fill":"#111","textLength":499,"lengthAdjust":"spacingAndGlyphs"});
txt(632,1412,"Wells Fargo Securities",{"font-family":SERIF,"font-weight":"bold","font-size":17.5,"fill":"#111","textLength":189,"lengthAdjust":"spacingAndGlyphs"});

txt(55,1549,"76",{"font-family":"Lato, 'Open Sans', sans-serif","font-size":14,"fill":"#555"});
txt(86,1549,"The Market Place • AUGUST 2019",{"font-family":"Lato, 'Open Sans', sans-serif","font-size":14,"fill":"#555","textLength":239,"lengthAdjust":"spacingAndGlyphs"});
</script>
</body></html>
